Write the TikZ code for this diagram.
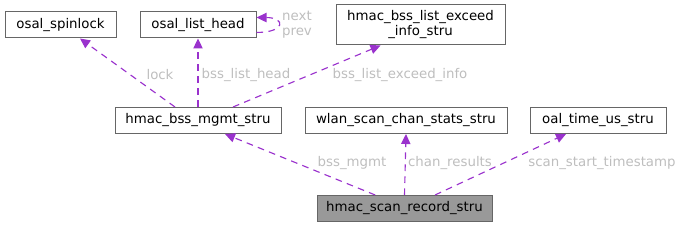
\documentclass[tikz,border=0pt]{standalone}
\usepackage{fontspec}
\setmainfont{DejaVu Sans}
\definecolor{edgepurple}{HTML}{9A32CD}
\definecolor{labelgrey}{HTML}{BEBEBE}
\definecolor{boxgrey}{HTML}{666666}
\definecolor{recfill}{HTML}{999999}
\usetikzlibrary{arrows.meta, positioning, calc}

\begin{document}
\begin{tikzpicture}[
  x=0.75pt, y=-0.75pt,
  font=\fontsize{10}{11.25}\selectfont,
  sbox/.style={draw=boxgrey, line width=0.75pt, fill=white, inner sep=2pt, minimum height=19.5pt, align=center},
  edge/.style={draw=edgepurple, line width=0.85pt, dash pattern=on 5pt off 4pt, -{Triangle[length=7.5pt, width=7pt, fill=edgepurple]}},
  elabel/.style={text=labelgrey, inner sep=0pt}
]
  \useasboundingbox (0,0) rectangle (681,227);

  \node[sbox, minimum width=83.25pt] (spinlock) at (60.5, 25) {osal\_spinlock};
  \node[sbox, minimum width=87pt] (listhead) at (198, 25) {osal\_list\_head};
  \node[sbox, minimum width=126.75pt, minimum height=30pt] (exceed) at (420.5, 25) {hmac\_bss\_list\_exceed\\\_info\_stru};
  \node[sbox, minimum width=124.5pt] (bssmgmt) at (198, 120.5) {hmac\_bss\_mgmt\_stru};
  \node[sbox, minimum width=151.5pt] (chanstats) at (406, 120.5) {wlan\_scan\_chan\_stats\_stru};
  \node[sbox, minimum width=102pt] (timeus) at (598, 120.5) {oal\_time\_us\_stru};
  \node[sbox, minimum width=131.25pt, fill=recfill] (record) at (404.5, 208.5) {hmac\_scan\_record\_stru};

  \draw[edge] ([xshift=-17.25pt]bssmgmt.north) -- ([xshift=14.6pt]spinlock.south);
  \draw[edge] (bssmgmt.north) -- (listhead.south);
  \draw[edge] ([xshift=26.25pt]bssmgmt.north) -- ([xshift=-30pt]exceed.south);
  \draw[edge] ([yshift=-5.6pt]listhead.east) .. controls +(22pt,0) and +(22pt,0) .. ([yshift=5.6pt]listhead.east);
  \draw[edge] ([xshift=-22pt]record.north) -- ([xshift=20.25pt]bssmgmt.south);
  \draw[edge] (record.north) -- (chanstats.south);
  \draw[edge] ([xshift=22.9pt]record.north) -- ([xshift=-24pt]timeus.south);

  \node[elabel] (lbllock) at (160, 75) {lock};
  \node[elabel] (lbllisthead) at (246, 75) {bss\_list\_head};
  \node[elabel] (lblexceed) at (400, 75) {bss\_list\_exceed\_info};
  \node[elabel, align=center] (lblnext) at (297, 25) {next\\prev};
  \node[elabel] (lblmgmt) at (352, 163) {bss\_mgmt};
  \node[elabel] (lblchan) at (450, 163) {chan\_results};
  \node[elabel] (lbltime) at (602, 163) {scan\_start\_timestamp};
\end{tikzpicture}
\end{document}
